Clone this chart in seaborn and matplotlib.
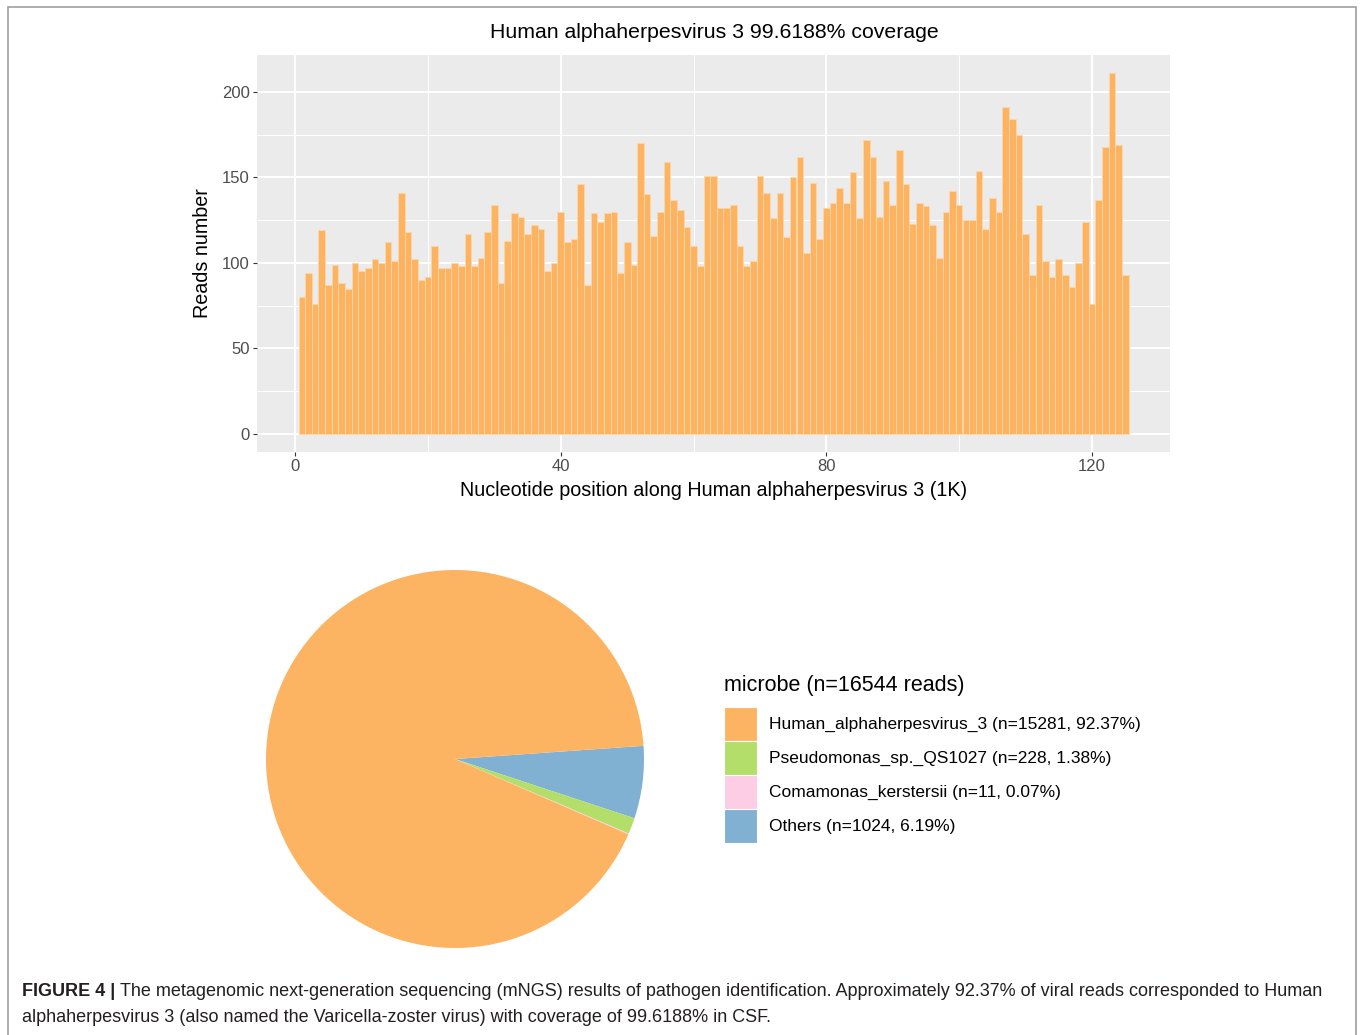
import matplotlib
matplotlib.use("Agg")
import matplotlib.pyplot as plt
import seaborn as sns
import pandas as pd
from matplotlib.patches import Rectangle
from matplotlib.ticker import MultipleLocator

# coverage: reads per 1K bin along the genome
positions = list(range(1, 126))
reads = [80, 94, 76, 119, 87, 99, 88, 85, 100, 95,
         97, 102, 100, 112, 101, 141, 118, 102, 90, 92,
         110, 97, 97, 100, 98, 117, 98, 103, 118, 134,
         88, 113, 129, 127, 117, 122, 120, 95, 100, 130,
         112, 114, 146, 87, 129, 124, 129, 130, 94, 112,
         99, 170, 140, 116, 130, 159, 137, 131, 121, 110,
         98, 151, 151, 132, 132, 134, 110, 98, 101, 151,
         141, 126, 141, 115, 150, 162, 106, 147, 114, 132,
         135, 144, 135, 153, 126, 172, 162, 127, 148, 134,
         166, 146, 123, 135, 133, 122, 103, 130, 142, 134,
         125, 125, 154, 120, 138, 130, 191, 184, 175, 117,
         93, 134, 101, 92, 102, 93, 86, 100, 124, 76,
         137, 168, 211, 169, 93]

# microbe composition
microbes = ["Human_alphaherpesvirus_3", "Pseudomonas_sp._QS1027",
            "Comamonas_kerstersii", "Others"]
counts = [15281, 228, 11, 1024]
percents = ["92.37%", "1.38%", "0.07%", "6.19%"]
colors = ["#FDB462", "#B3DE69", "#FCCDE5", "#80B1D3"]
total_reads = 16544

sns.set_theme(style="darkgrid", rc={
    "axes.facecolor": "#EBEBEB",
    "grid.color": "white",
    "axes.edgecolor": "#EBEBEB",
})
plt.rcParams["font.family"] = ["Liberation Sans", "DejaVu Sans"]

W, H = 1360, 1035
fig = plt.figure(figsize=(W / 100, H / 100), dpi=100)
fig.patch.set_facecolor("white")

# frame of the figure panel
fig.add_artist(Rectangle((8 / W, -0.02), (1356 - 8) / W, 1.02 - 7 / H,
                         transform=fig.transFigure, fill=False,
                         edgecolor="#A0A0A0", linewidth=1.2))

# ---- coverage bar chart ----
ax = fig.add_axes([257 / W, 1 - 452 / H, (1170 - 257) / W, (452 - 55) / H])
df = pd.DataFrame({"pos": positions, "reads": reads})
sns.barplot(data=df, x="pos", y="reads", native_scale=True, width=1.0,
            color="#FDB462", saturation=1, edgecolor="#FFD6A6",
            linewidth=0.6, errorbar=None, ax=ax)
ax.set_xlim(-5.75, 131.75)
ax.set_ylim(-10.55, 221.55)
ax.set_xticks([0, 40, 80, 120])
ax.set_yticks([0, 50, 100, 150, 200])
ax.xaxis.set_minor_locator(MultipleLocator(20))
ax.yaxis.set_minor_locator(MultipleLocator(25))
ax.grid(which="major", color="white", linewidth=1.4)
ax.grid(which="minor", color="white", linewidth=0.7)
ax.set_axisbelow(True)
for s in ax.spines.values():
    s.set_visible(False)
ax.tick_params(axis="both", which="major", bottom=True, left=True,
               length=3, width=0.8, color="#333333",
               labelsize=12, labelcolor="#4D4D4D", pad=2.2)
ax.tick_params(which="minor", length=0)
ax.set_xlabel("")
ax.set_ylabel("")

fig.text(714 / W, 1 - 32 / H, "Human alphaherpesvirus 3 99.6188% coverage",
         ha="center", va="center", fontsize=15.3, color="black")
fig.text(714 / W, 1 - 491 / H,
         "Nucleotide position along Human alphaherpesvirus 3 (1K)",
         ha="center", va="center", fontsize=14.2, color="black")
fig.text(202 / W, 1 - 253 / H, "Reads number", rotation=90,
         ha="center", va="center", fontsize=14.2, color="black")

# ---- pie chart ----
r = 189
pax = fig.add_axes([(455 - r) / W, 1 - (759 + r) / H, 2 * r / W, 2 * r / H])
order = [3, 1, 2, 0]
pax.pie([counts[i] for i in order], colors=[colors[i] for i in order],
        startangle=4, counterclock=False, radius=1,
        wedgeprops={"linewidth": 0})
pax.set_xlim(-1, 1)
pax.set_ylim(-1, 1)
pax.set_aspect("equal")
pax.axis("off")

# legend
fig.text(724 / W, 1 - 686 / H, f"microbe (n={total_reads} reads)",
         ha="left", va="center", fontsize=15.5, color="black")
for k, name in enumerate(microbes):
    top = 707 + k * 34
    fig.add_artist(Rectangle((724 / W, 1 - (top + 34) / H), 33 / W, 34 / H,
                             transform=fig.transFigure, facecolor=colors[k],
                             edgecolor="white", linewidth=0.8))
    fig.text(769 / W, 1 - (top + 17) / H,
             f"{name} (n={counts[k]}, {percents[k]})",
             ha="left", va="center", fontsize=12.5, color="black")

# caption
renderer = fig.canvas.get_renderer()
cap_color = "#231F20"
bold = fig.text(22 / W, 1 - 992 / H, "FIGURE 4 |", ha="left", va="center",
                fontsize=13, fontweight="bold", color=cap_color)
bb = bold.get_window_extent(renderer=renderer)
fig.text(bb.x1 / W + 5 / W, 1 - 992 / H,
         "The metagenomic next-generation sequencing (mNGS) results of pathogen "
         "identification. Approximately 92.37% of viral reads corresponded to Human",
         ha="left", va="center", fontsize=13, color=cap_color)
fig.text(22 / W, 1 - 1017 / H,
         "alphaherpesvirus 3 (also named the Varicella-zoster virus) with "
         "coverage of 99.6188% in CSF.",
         ha="left", va="center", fontsize=13, color=cap_color)

fig.savefig("out.png", dpi=100)
